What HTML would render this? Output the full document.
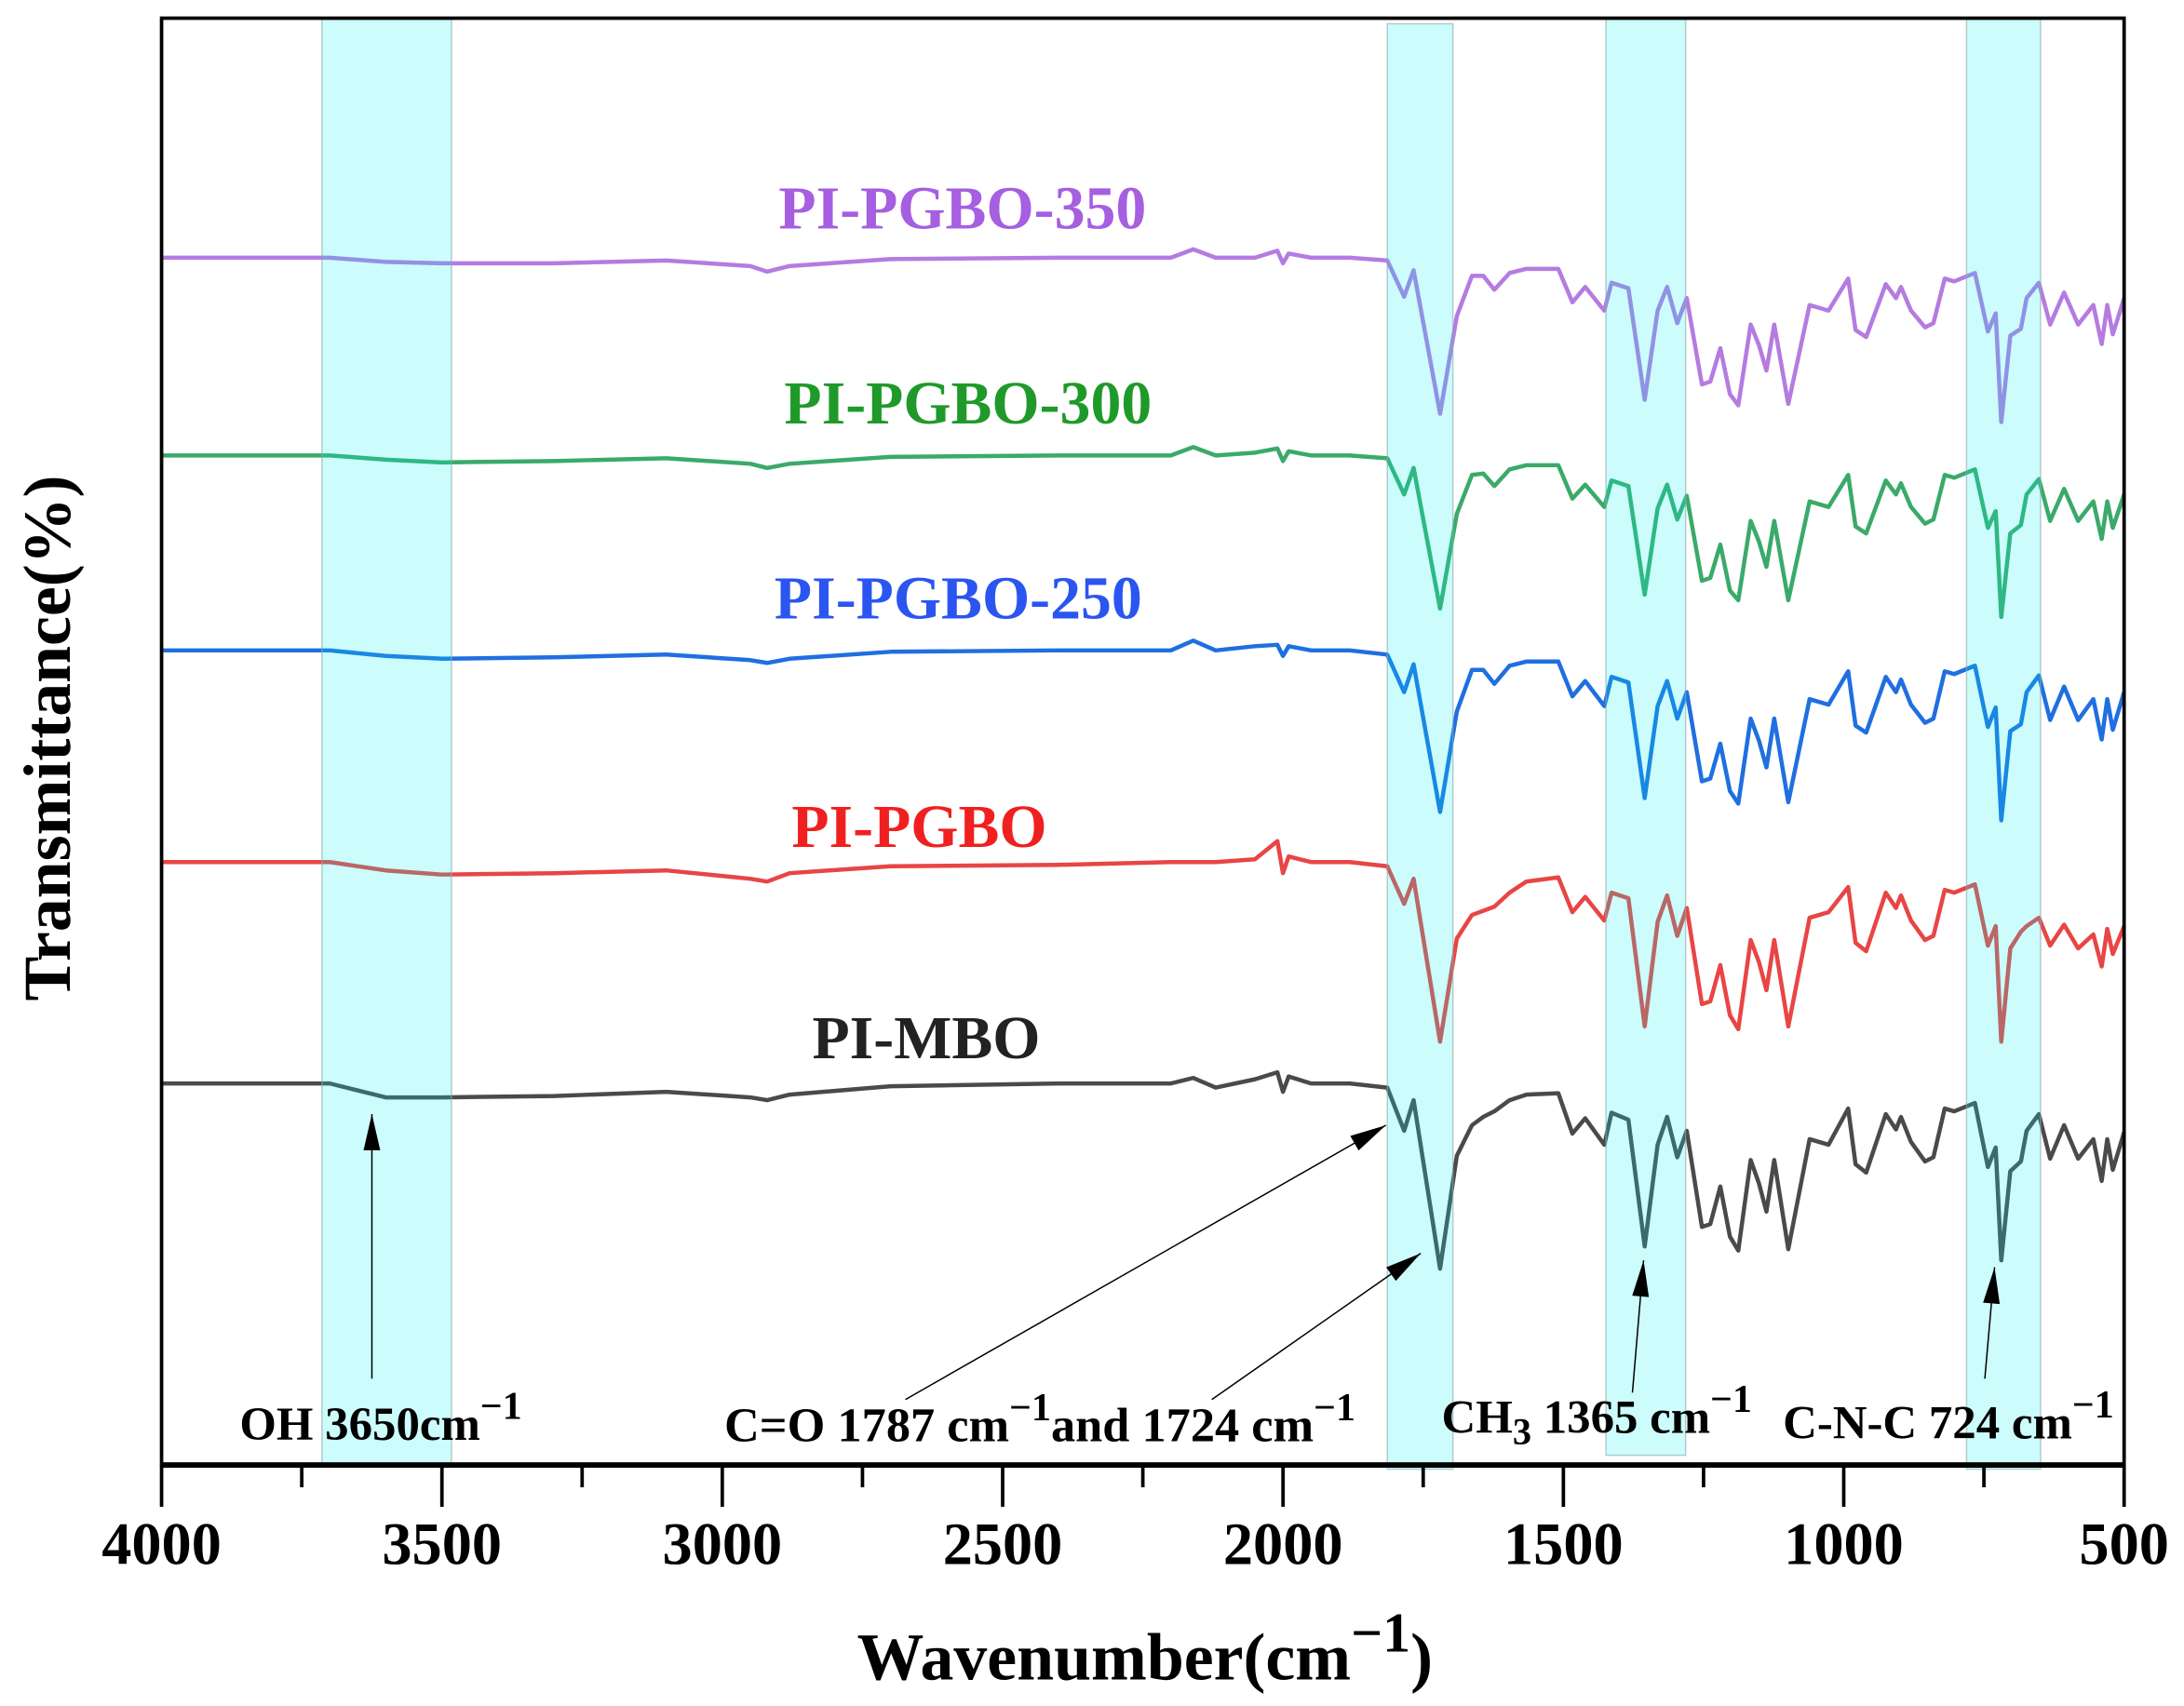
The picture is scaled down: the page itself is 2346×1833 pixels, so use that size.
<!DOCTYPE html>
<html><head><meta charset="utf-8"><style>
html,body{margin:0;padding:0;background:#fff;}
svg{display:block;}
text{font-family:"Liberation Serif",serif;font-weight:bold;}
</style></head><body>
<svg id="chart" width="2346" height="1833" viewBox="0 0 1568 1225" xmlns="http://www.w3.org/2000/svg">
<g id="series-layer"></g>
<g id="band-layer"></g>
<g id="axis-layer"></g>
<g id="label-layer">
<text x="691" y="164" text-anchor="middle" font-size="44" fill="#a55fe0">PI-PGBO-350</text>
<text x="695" y="304" text-anchor="middle" font-size="44" fill="#1f9a2a">PI-PGBO-300</text>
<text x="688" y="444" text-anchor="middle" font-size="44" fill="#2a55f0">PI-PGBO-250</text>
<text x="660" y="608" text-anchor="middle" font-size="44" fill="#f02020">PI-PGBO</text>
<text x="665" y="760" text-anchor="middle" font-size="44" fill="#222">PI-MBO</text>
<text x="172" y="1034" font-size="34" fill="#000">OH 3650cm<tspan dy="-15" font-size="28">−1</tspan></text>
<text x="520" y="1035" font-size="35" fill="#000">C=O 1787 cm<tspan dy="-15" font-size="28">−1</tspan><tspan dy="15">and 1724 cm</tspan><tspan dy="-15" font-size="28">−1</tspan></text>
<text x="1035" y="1029" font-size="34" fill="#000">CH<tspan dy="8" font-size="27">3</tspan><tspan dy="-8"> 1365 cm</tspan><tspan dy="-15" font-size="28">−1</tspan></text>
<text x="1280" y="1033" font-size="34" fill="#000">C-N-C 724 cm<tspan dy="-15" font-size="28">−1</tspan></text>
<text x="822" y="1206" text-anchor="middle" font-size="48" fill="#000">Wavenumber(cm<tspan dy="-20" font-size="40">−1</tspan><tspan dy="20">)</tspan></text>
<text transform="translate(50,530) rotate(-90)" text-anchor="middle" font-size="48" fill="#000">Transmittance(%)</text>
</g>
<g id="arrow-layer"></g>
</svg>
<script>
const wavenumbers=[4000,3750,3700,3600,3500,3300,3100,2950,2920,2880,2700,2400,2200,2160,2120,2050,2010,2000,1990,1950,1900,
1881,1814,1784,1767,1720,1690,1663,1643,1623,1596,1566,1509,1484,1461,1427,1414,1384,1355,1332,1315,1297,1280,1253,1238,1220,1203,1188,1166,1151,1138,1124,1099,1061,1027,992,979,960,925,907,898,880,855,840,820,803,766,743,729,719,703,684,674,652,632,607,582,555,540,530,520,500];
const seriesNames=["PI-PGBO-350","PI-PGBO-300","PI-PGBO-250","PI-PGBO","PI-MBO"];
const seriesColors=["#b57be0","#3aaa6a","#1f6fe0","#e84545","#4a4a4a"];
const seriesOffsets=[867,725,585,433,274];
const depth350=[0,0,0,3,4,4,2,6,10,6,1,0,0,-6,0,0,-5,4,-3,0,0,
0,2,28,9,112,42,13,13,23,11,8,8,32,21,38,18,22,102,38,21,47,29,91,89,65,98,106,48,63,81,48,105,34,38,15,52,57,19,29,21,38,50,47,15,17,11,53,40,118,56,51,29,18,48,25,48,34,62,34,55,29];
const depth300=[0,0,0,3,5,4,2,6,9,6,1,0,0,-6,0,-2,-5,4,-3,0,0,
0,2,28,9,110,42,14,13,22,10,7,7,31,21,37,18,22,100,38,21,46,29,90,88,64,97,104,47,62,80,47,104,33,37,14,51,56,18,28,20,37,49,46,14,16,10,52,40,116,56,50,28,17,47,24,47,33,60,33,52,28];
const depth250=[0,0,0,4,6,5,3,7,9,6,1,0,0,-7,0,-3,-4,4,-3,0,0,
0,3,30,10,116,44,14,14,24,11,8,8,33,22,40,19,23,106,40,22,49,30,94,92,67,101,110,49,65,84,49,109,35,39,15,54,59,19,30,21,39,52,49,15,17,11,55,41,122,58,53,30,18,50,26,50,35,64,35,57,30];
const depthPGBO=[0,0,0,6,9,8,6,12,14,8,3,2,0,0,0,-2,-15,8,-4,0,0,
0,3,30,12,129,55,38,35,32,22,14,11,36,25,42,22,26,118,43,24,53,33,102,100,74,110,120,56,72,92,56,118,40,36,18,58,64,22,33,24,42,56,53,20,22,16,60,46,129,62,50,46,40,60,45,62,52,75,48,66,46];
const depthMBO=[0,0,0,10,10,9,6,10,12,8,2,0,0,-4,3,-3,-8,6,-5,0,0,
0,3,34,12,133,52,30,24,20,12,8,7,36,25,44,21,26,117,44,24,53,34,103,101,74,110,120,55,72,92,55,119,40,44,18,58,64,22,33,24,42,56,53,18,20,14,60,46,127,63,56,34,22,54,30,54,40,70,40,62,35];
const seriesDepths=[depth350,depth300,depth250,depthPGBO,depthMBO];
const xTicks=[4000,3500,3000,2500,2000,1500,1000,500];
const xTickLabels=["4000","3500","3000","2500","2000","1500","1000","500"];
const minorTicks=[3750,3250,2750,2250,1750,1250,750];
const bandStarts=[3714,1814,1424,781];
const bandEnds=[3483,1697,1282,649];

const NS="http://www.w3.org/2000/svg";
const L=116,R=1525,T=13,B=1052;
function xs(w){return L+(4000-w)/3500*(R-L);}
function ys(v){return B-v;}
function mk(tag,attrs,parent){const e=document.createElementNS(NS,tag);for(const k in attrs)e.setAttribute(k,attrs[k]);parent.appendChild(e);return e;}

const sl=document.getElementById('series-layer');
seriesDepths.forEach((d,i)=>{
  let pts=wavenumbers.map((w,j)=>xs(w).toFixed(1)+','+ys(seriesOffsets[i]-d[j]).toFixed(1)).join(' ');
  const p=mk('polyline',{points:pts,fill:'none',stroke:seriesColors[i],'stroke-width':3,'stroke-linejoin':'round'},sl);
  
  
});

const bl=document.getElementById('band-layer');
const bandTops=[13,17,13,13],bandBottoms=[1052,1055,1045,1055];
bandStarts.forEach((s,i)=>{
  const x1=xs(s),x2=xs(bandEnds[i]);
  const r=mk('rect',{x:x1,y:bandTops[i],width:x2-x1,height:bandBottoms[i]-bandTops[i],fill:'rgba(0,240,240,0.2)',stroke:'rgba(140,170,170,0.6)','stroke-width':1},bl);
  
  
});

const al=document.getElementById('axis-layer');
const box=mk('rect',{x:L,y:T,width:R-L,height:B-T,fill:'none',stroke:'#000','stroke-width':2.5},al);


const bx=mk('line',{x1:L,y1:B,x2:R,y2:B,stroke:'#000','stroke-width':4},al);


xTicks.forEach((w,i)=>{
  const t=mk('line',{x1:xs(w),y1:B,x2:xs(w),y2:B+30,stroke:'#000','stroke-width':2.5},al);
  
  
  const tx=mk('text',{x:xs(w),y:1123,'text-anchor':'middle','font-size':43,fill:'#000'},al);
  tx.textContent=xTickLabels[i];
  
  
});
minorTicks.forEach(w=>{
  const t=mk('line',{x1:xs(w),y1:B,x2:xs(w),y2:B+16,stroke:'#000','stroke-width':2.5},al);
  
  
});

const arl=document.getElementById('arrow-layer');
const arrows=[[267,990,267,800],[650,1005,995,808],[870,1005,1020,900],[1172,1000,1180,905],[1425,990,1432,910]];
arrows.forEach(a=>{
  const [x1,y1,x2,y2]=a;
  const ln=mk('line',{x1:x1,y1:y1,x2:x2,y2:y2,stroke:'#000','stroke-width':1},arl);
  
  
  const ang=Math.atan2(y2-y1,x2-x1),len=26,hw=6;
  const bx_=x2-len*Math.cos(ang),by_=y2-len*Math.sin(ang);
  const px=-Math.sin(ang)*hw,py=Math.cos(ang)*hw;
  const h=mk('polygon',{points:`${x2},${y2} ${bx_+px},${by_+py} ${bx_-px},${by_-py}`,fill:'#000'},arl);
  
  
});
</script>
</body></html>
